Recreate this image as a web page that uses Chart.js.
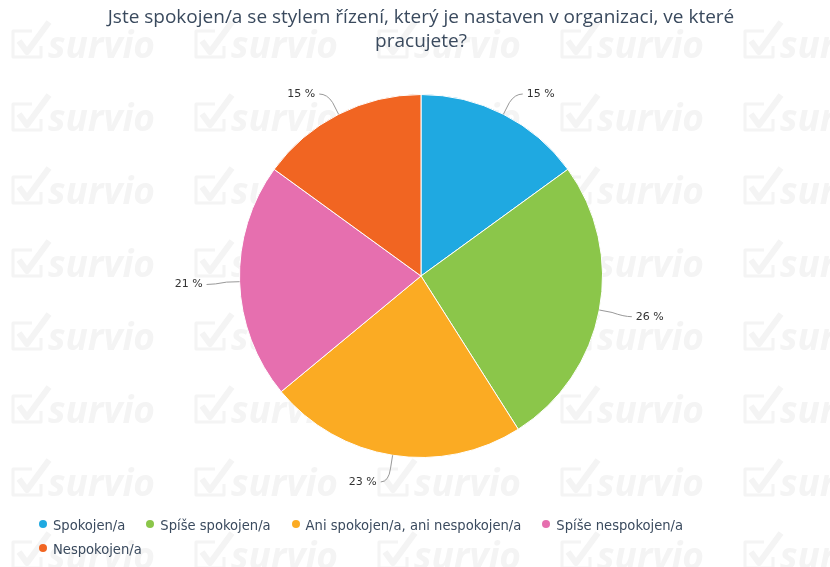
<!DOCTYPE html>
<html>
<head>
<meta charset="utf-8">
<script src="https://cdn.jsdelivr.net/npm/chart.js@4.4.1/dist/chart.umd.min.js"></script>
<style>
  html, body { margin: 0; padding: 0; background: #fff; }
  #wrap { position: relative; width: 830px; height: 567px; }
  #legend {
    position: absolute; left: 39px; top: 512px; width: 730px;
    display: flex; flex-wrap: wrap; margin: 0; padding: 0; list-style: none;
    font-family: "DejaVu Sans Condensed", "DejaVu Sans", sans-serif;
    font-stretch: condensed; font-size: 14.6px; color: #3a4a5e;
  }
  #legend li { display: flex; align-items: center; height: 24px; margin-right: 21px; white-space: nowrap; }
  #legend .dot { width: 8px; height: 8px; border-radius: 50%; margin-right: 6px; }
</style>
</head>
<body>
<div id="wrap">
  <canvas id="myChart" width="830" height="567"></canvas>
  <ul id="legend"></ul>
</div>
<script>
// data
const titleLines = [
  "Jste spokojen/a se stylem řízení, který je nastaven v organizaci, ve které",
  "pracujete?"
];
const categories = [
  "Spokojen/a",
  "Spíše spokojen/a",
  "Ani spokojen/a, ani nespokojen/a",
  "Spíše nespokojen/a",
  "Nespokojen/a"
];
const percents = [15, 26, 23, 21, 15];
const sliceColors = ["#1fa9e1", "#8bc64a", "#fbab23", "#e66faf", "#f16522"];

const textColor = "#3a4a5e";

// faint "survio" tiles behind the chart
const watermark = {
  id: "watermark",
  beforeDraw(chart) {
    const ctx = chart.ctx;
    ctx.save();
    ctx.fillStyle = "#fff";
    ctx.fillRect(0, 0, chart.width, chart.height);
    ctx.fillStyle = "#f4f4f4";
    ctx.strokeStyle = "#f4f4f4";
    ctx.lineJoin = "round";
    ctx.font = 'italic bold 37px "Open Sans"';
    ctx.textBaseline = "alphabetic";
    for (let row = 0; row < 8; row++) {
      for (let col = -1; col < 5; col++) {
        const bx = 12 + col * 183;
        const by = 58 + row * 73;
        ctx.lineWidth = 3;
        ctx.beginPath();
        ctx.moveTo(bx + 20, by - 27);
        ctx.lineTo(bx + 1, by - 27);
        ctx.lineTo(bx + 1, by - 1);
        ctx.lineTo(bx + 29, by - 1);
        ctx.lineTo(bx + 29, by - 12);
        ctx.stroke();
        ctx.lineWidth = 6;
        ctx.beginPath();
        ctx.moveTo(bx + 7, by - 17);
        ctx.lineTo(bx + 15, by - 6);
        ctx.lineTo(bx + 37, by - 36);
        ctx.stroke();
        ctx.fillText("survio", bx + 36, by);
      }
    }
    ctx.restore();
  }
};

// percentage labels outside the slices with curved leader lines
const outsideLabels = {
  id: "outsideLabels",
  afterDatasetsDraw(chart) {
    const ctx = chart.ctx;
    const meta = chart.getDatasetMeta(0);
    const values = chart.data.datasets[0].data;
    ctx.save();
    ctx.font = '11px "DejaVu Sans"';
    ctx.textBaseline = "middle";
    meta.data.forEach((arc, i) => {
      const p = arc.getProps(["x", "y", "startAngle", "endAngle", "outerRadius"], true);
      const mid = (p.startAngle + p.endAngle) / 2;
      const cos = Math.cos(mid), sin = Math.sin(mid);
      const side = cos >= 0 ? 1 : -1;
      const r = p.outerRadius;
      const x0 = p.x + cos * r, y0 = p.y + sin * r;
      const xm = p.x + cos * (r + 13), ym = p.y + sin * (r + 13);
      const x1 = p.x + cos * (r + 25), y1 = p.y + sin * (r + 25) + 2;
      const x2 = x1 + side * 8;
      ctx.strokeStyle = "#999";
      ctx.lineWidth = 1;
      ctx.beginPath();
      ctx.moveTo(x0, y0);
      ctx.lineTo(xm, ym);
      ctx.quadraticCurveTo(x1, y1, x2, y1);
      ctx.stroke();
      ctx.fillStyle = "#333";
      ctx.textAlign = side > 0 ? "left" : "right";
      ctx.fillText(values[i] + " %", x2 + side * 4, y1);
    });
    ctx.restore();
  }
};

const myChart = new Chart("myChart", {
  type: "pie",
  data: {
    labels: categories,
    datasets: [{
      data: percents,
      backgroundColor: sliceColors,
      borderColor: "#fff",
      borderWidth: 1
    }]
  },
  options: {
    responsive: false,
    animation: false,
    layout: { padding: { left: 12, right: 0, top: 0, bottom: 109 } },
    plugins: {
      legend: { display: false },
      tooltip: { enabled: false },
      title: {
        display: true,
        text: titleLines,
        color: textColor,
        font: { family: '"Open Sans", sans-serif', size: 19, weight: "normal", lineHeight: 24 / 19 },
        padding: { top: 6, bottom: 40 }
      }
    }
  },
  plugins: [watermark, outsideLabels]
});

// legend built from the chart's own labels and colours
const legendEl = document.getElementById("legend");
myChart.data.labels.forEach((label, i) => {
  const li = document.createElement("li");
  const dot = document.createElement("span");
  dot.className = "dot";
  dot.style.background = myChart.data.datasets[0].backgroundColor[i];
  const txt = document.createElement("span");
  txt.textContent = label;
  li.appendChild(dot);
  li.appendChild(txt);
  legendEl.appendChild(li);
});
</script>
</body>
</html>
